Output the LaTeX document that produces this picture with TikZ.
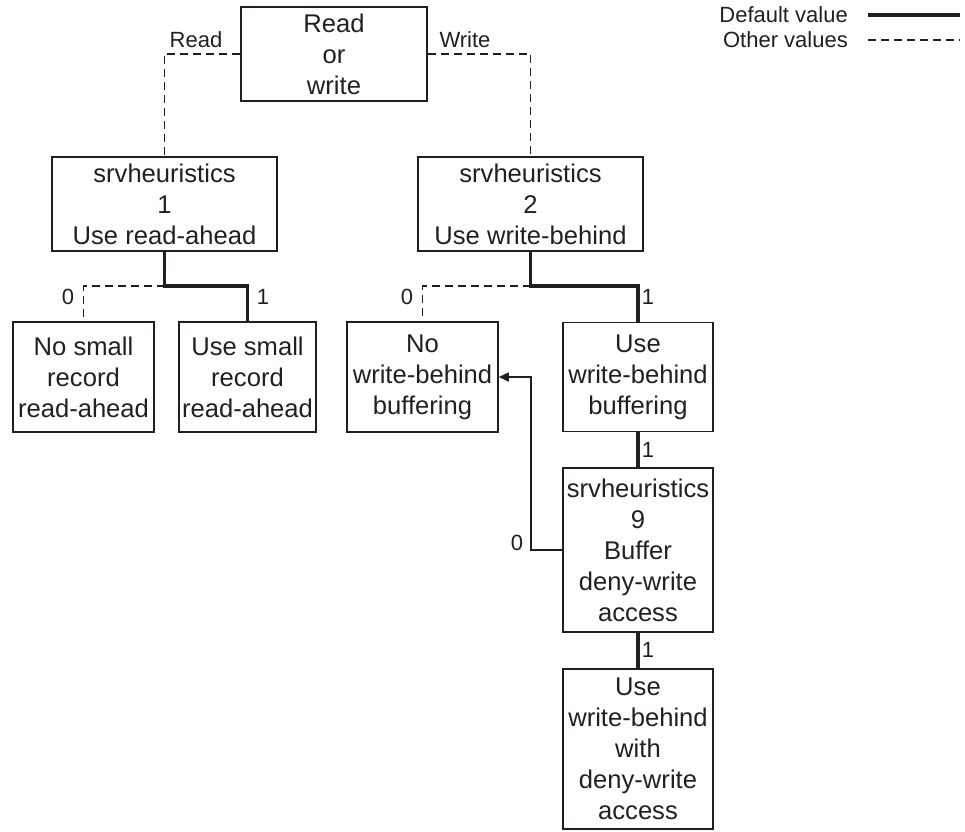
\documentclass[tikz,border=0pt]{standalone}
\usepackage{fontspec}
\setmainfont{Liberation Sans}
\usetikzlibrary{arrows.meta}
\definecolor{ink}{HTML}{231F20}
\tikzset{
  box/.style={draw=ink, text=ink, line width=1.5pt, inner sep=0pt, align=center,
    font=\fontsize{25.6}{31}\selectfont},
  lbl/.style={inner sep=0pt, text=ink, font=\fontsize{22}{26}\selectfont},
  thinline/.style={draw=ink, line width=1.5pt},
  defline/.style={draw=ink, line width=3.6pt},
  othline/.style={draw=ink, line width=1.5pt, dash pattern=on 8pt off 5pt},
}
\begin{document}
\begin{tikzpicture}[x=1pt,y=-1pt]
\useasboundingbox (0,0) rectangle (965,831);

% boxes
\node[box, minimum width=186pt, minimum height=94pt] (rw) at (334,54) {Read\\or\\write};
\node[box, minimum width=225pt, minimum height=94pt] (s1) at (164.5,204) {srvheuristics\\1\\Use read-ahead};
\node[box, minimum width=225pt, minimum height=94pt] (s2) at (530.5,204) {srvheuristics\\2\\Use write-behind};
\node[box, minimum width=141pt, minimum height=110pt] (nsr) at (83.5,377) {No small\\record\\read-ahead};
\node[box, minimum width=137pt, minimum height=110pt] (usr) at (247.5,377) {Use small\\record\\read-ahead};
\node[box, minimum width=151pt, minimum height=110pt] (nwb) at (422.5,377) {No\\write-behind\\buffering};
\node[box, minimum width=150pt, minimum height=109pt] (uwb) at (638,377) {Use\\write-behind\\buffering};
\node[box, minimum width=150pt, minimum height=164pt] (s9) at (638,550) {srvheuristics\\9\\Buffer\\deny-write\\access};
\node[box, minimum width=150pt, minimum height=160pt] (fin) at (638,749) {Use\\write-behind\\with\\deny-write\\access};

% top branches
\draw[othline] (rw.west) -| (s1.north);
\draw[othline] (rw.east) -| (s2.north);
\node[lbl] (lread) at (196,40) {Read};
\node[lbl] (lwrite) at (465,40) {Write};

% srvheuristics 1 branches
\coordinate (j1) at (164.5,286);
\draw[othline] (j1) -| (nsr.north);
\draw[defline] (s1.south) -- (j1) -| (usr.north);
\node[lbl] (l10) at (68,297) {0};
\node[lbl] (l11) at (263,297) {1};

% srvheuristics 2 branches
\coordinate (j2) at (530.5,286);
\draw[othline] (j2) -| (nwb.north);
\draw[defline] (s2.south) -- (j2) -| (uwb.north);
\node[lbl] (l20) at (407,297) {0};
\node[lbl] (l21) at (648,297) {1};

% vertical chain
\draw[defline] (uwb.south) -- (s9.north);
\node[lbl] (l31) at (648,450) {1};
\draw[defline] (s9.south) -- (fin.north);
\node[lbl] (l91) at (648,650) {1};

% back arrow
\coordinate (c0) at (531,550);
\draw[thinline, -{Triangle[length=10pt,width=9pt]}] (s9.west) -- (c0) |- (nwb.east);
\node[lbl] (l90) at (517,543) {0};

% legend
\node[lbl, anchor=east] (ldef) at (848,15) {Default value};
\node[lbl, anchor=east] (loth) at (848,40) {Other values};
\coordinate (da) at (868,15);
\coordinate (db) at (960,15);
\coordinate (oa) at (868,40);
\coordinate (ob) at (960,40);
\draw[defline] (da) -- (db);
\draw[othline] (oa) -- (ob);
\end{tikzpicture}
\end{document}
